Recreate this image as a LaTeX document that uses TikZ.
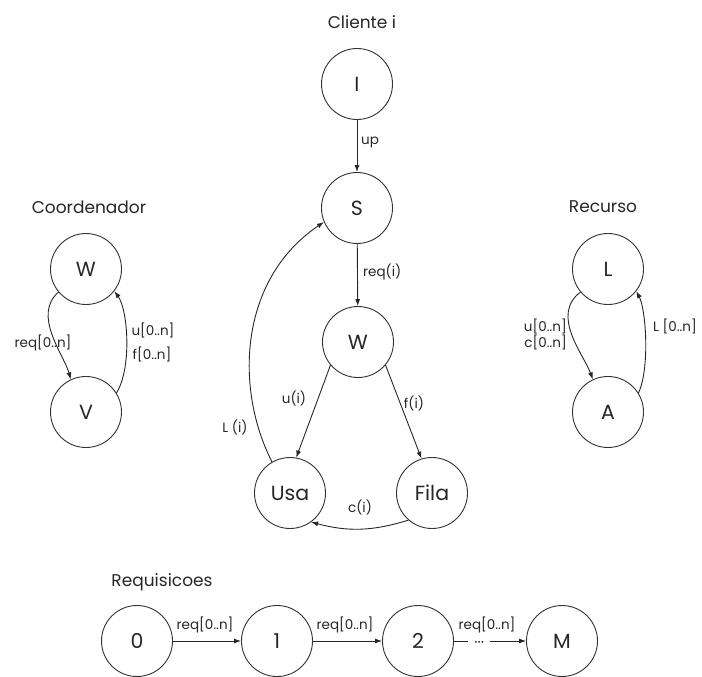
\documentclass[tikz,border=0pt]{standalone}
\usepackage{fontspec}
\setmainfont{Poppins}
\usetikzlibrary{arrows.meta}
\begin{document}
\begin{tikzpicture}[x=1pt,y=1pt,
 st/.style={circle,draw=black!80,line width=0.9pt,minimum size=71pt,inner sep=0pt,text=black!85,font=\fontsize{20.5}{24}\selectfont},
 ttl/.style={font=\fontsize{17}{20}\selectfont,text=black!85},
 lbl/.style={font=\fontsize{13.5}{16}\selectfont,text=black!85,inner sep=1pt},
 dotsl/.style={fill=white,inner xsep=6pt,inner ysep=0.5pt,text height=1pt,text depth=0pt,font=\fontsize{15}{16}\selectfont,text=black!85},
 arr/.style={draw=black!85,line width=0.9pt,-{Latex[length=7pt,width=5pt]}}]
\useasboundingbox (0,0) rectangle (702,-677);
% Cliente i
\node[ttl] (tc) at (362,-22) {Cliente i};
\node[st] (I) at (357,-84) {I};
\node[st] (S) at (357,-208) {S};
\node[st] (W) at (358,-342) {W};
\node[st] (U) at (290,-493) {Usa};
\node[st] (F) at (432,-493) {Fila};
\draw[arr] (I) -- (S);
\draw[arr] (S) -- (W);
\draw[arr] (W.220) -- (U.80);
\draw[arr] (W.320) -- (F.107);
\draw[arr] (F.229) to[bend left=16] (U.306);
\draw[arr] (U.120) .. controls (235,-390) and (238,-280) .. (S.203);
\node[lbl,anchor=west] (lup) at (360,-142) {up};
\node[lbl,anchor=west] (lreq) at (362,-272) {req(i)};
\node[lbl] (lu) at (294,-398) {u(i)};
\node[lbl] (lf) at (414,-403) {f(i)};
\node[lbl] (lc) at (360,-507) {c(i)};
\node[lbl] (lL) at (235,-427) {L (i)};
% Coordenador
\node[ttl] (tco) at (89,-207) {Coordenador};
\node[st] (cW) at (86,-269) {W};
\node[st] (cV) at (86,-412) {V};
\draw[arr] (cW.220) .. controls (32,-315) and (64,-355) .. (cV.115);
\draw[arr] (cV.32) .. controls (132,-368) and (128,-310) .. (cW.322);
\node[lbl] (creq) at (43,-343) {req[0..n]};
\node[lbl] (cu) at (153,-330) {u[0..n]};
\node[lbl] (cf) at (152,-354) {f[0..n]};
% Recurso
\node[ttl] (tr) at (603,-207) {Recurso};
\node[st] (rL) at (608,-269) {L};
\node[st] (rA) at (608,-412) {A};
\draw[arr] (rL.220) .. controls (550,-315) and (584,-355) .. (rA.115);
\draw[arr] (rA.32) .. controls (650,-368) and (646,-310) .. (rL.322);
\node[lbl,anchor=east] (ru) at (568,-326) {u[0..n]};
\node[lbl,anchor=east] (rc) at (568,-342) {c[0..n]};
\node[lbl] (rLl) at (675,-326) {L [0..n]};
% Requisicoes
\node[ttl] (tq) at (162,-582) {Requisicoes};
\node[st] (q0) at (137,-641) {0};
\node[st] (q1) at (277,-641) {1};
\node[st] (q2) at (418,-641) {2};
\node[st] (qM) at (562,-641) {M};
\draw[arr] (q0) -- (q1);
\draw[arr] (q1) -- (q2);
\draw[arr] (q2) -- node[pos=0.35,dotsl]{\raisebox{-5.5pt}{···}} (qM);
\node[lbl] (b1) at (205,-625) {req[0..n]};
\node[lbl] (b2) at (345,-625) {req[0..n]};
\node[lbl] (b3) at (487,-625) {req[0..n]};
\end{tikzpicture}
\end{document}
